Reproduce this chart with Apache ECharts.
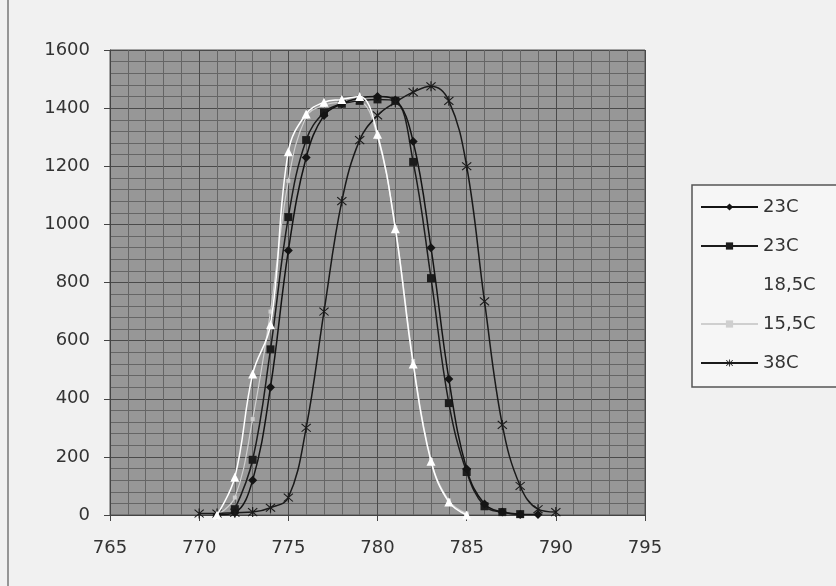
<!DOCTYPE html>
<html>
<head>
<meta charset="utf-8">
<script src="https://cdn.jsdelivr.net/npm/echarts@6/dist/echarts.min.js"></script>
<style>
  html, body { margin: 0; padding: 0; background: #f1f1f1; }
  #chart { width: 836px; height: 586px; }
</style>
</head>
<body>
<div id="chart"></div>
<script>
// ---- data ----
const xTicks = [765, 770, 775, 780, 785, 790, 795];
const yTicks = [0, 200, 400, 600, 800, 1000, 1200, 1400, 1600];

const wl23a = [771, 772, 773, 774, 775, 776, 777, 778, 779, 780, 781, 782, 783, 784, 785, 786, 787, 788, 789];
const val23a = [0, 8, 120, 440, 910, 1230, 1375, 1415, 1435, 1440, 1428, 1285, 920, 468, 158, 38, 10, 2, 2];

const wl23b = [772, 773, 774, 775, 776, 777, 778, 779, 780, 781, 782, 783, 784, 785, 786, 787, 788];
const val23b = [20, 190, 570, 1025, 1290, 1385, 1415, 1425, 1430, 1425, 1215, 815, 385, 148, 30, 10, 3];

const wl185 = [771, 772, 773, 774, 775, 776, 777, 778, 779, 780, 781, 782, 783, 784, 785];
const val185 = [0, 130, 485, 655, 1250, 1380, 1420, 1430, 1440, 1310, 985, 520, 185, 45, 0];

const wl155 = [771, 772, 773, 774, 775, 776, 777, 778, 779, 780, 781, 782, 783, 784, 785];
const val155 = [0, 60, 330, 700, 1150, 1370, 1410, 1420, 1420, 1300, 990, 530, 190, 50, 5];

const wl38 = [770, 771, 772, 773, 774, 775, 776, 777, 778, 779, 780, 781, 782, 783, 784, 785, 786, 787, 788, 789, 790];
const val38 = [5, 5, 8, 10, 25, 60, 300, 700, 1080, 1290, 1375, 1420, 1455, 1475, 1425, 1200, 735, 310, 100, 20, 10];

const seriesNames = ['23C', '23C ', '18,5C', '15,5C', '38C'];

// ---- helpers ----
function pairs(xs, ys) { return xs.map((x, i) => [x, ys[i]]); }
const starPath = 'path://M4.5 0 L5.5 0 L5.5 10 L4.5 10 Z M0.7 1.4 L1.4 0.7 L9.3 8.6 L8.6 9.3 Z M8.6 0.7 L9.3 1.4 L1.4 9.3 L0.7 8.6 Z';
const FONT = 'DejaVu Sans';

const chart = echarts.init(document.getElementById('chart'), null, { renderer: 'canvas' });

chart.setOption({
  backgroundColor: '#f1f1f1',
  animation: false,
  textStyle: { fontFamily: FONT },
  grid: {
    left: 110, right: 191, top: 50, bottom: 71,
    show: true, backgroundColor: '#979797', borderColor: '#555', borderWidth: 1
  },
  xAxis: {
    type: 'value', min: xTicks[0], max: xTicks[xTicks.length - 1], interval: 5,
    axisLine: { show: true, onZero: false, lineStyle: { color: '#444', width: 1 } },
    axisTick: { show: true, inside: false, length: 6, lineStyle: { color: '#444' } },
    axisLabel: { color: '#333', fontSize: 18, fontFamily: FONT, margin: 24, formatter: v => String(v) },
    splitLine: { show: true, lineStyle: { color: '#4a4a4a', width: 1 } },
    minorTick: { show: false, splitNumber: 5 },
    minorSplitLine: { show: true, lineStyle: { color: '#656565', width: 1 } }
  },
  yAxis: {
    type: 'value', min: yTicks[0], max: yTicks[yTicks.length - 1], interval: 200,
    axisLine: { show: true, lineStyle: { color: '#444', width: 1 } },
    axisTick: { show: true, inside: false, length: 6, lineStyle: { color: '#444' } },
    axisLabel: { color: '#333', fontSize: 18, fontFamily: FONT, margin: 20, formatter: v => String(v) },
    splitLine: { show: true, lineStyle: { color: '#4a4a4a', width: 1 } },
    minorTick: { show: false, splitNumber: 5 },
    minorSplitLine: { show: true, lineStyle: { color: '#656565', width: 1 } }
  },
  legend: {
    orient: 'vertical',
    left: 692, top: 185,
    padding: [12, 30, 14, 8],
    backgroundColor: '#f6f6f6',
    borderColor: '#555', borderWidth: 1.5,
    itemWidth: 57, itemHeight: 9, itemGap: 19,
    textStyle: { color: '#333', fontSize: 18, fontFamily: FONT, lineHeight: 20, height: 20 },
    data: [
      { name: seriesNames[0] },
      { name: seriesNames[1] },
      { name: seriesNames[2], itemStyle: { opacity: 0 }, lineStyle: { opacity: 0 } },
      { name: seriesNames[3] },
      { name: seriesNames[4] }
    ]
  },
  series: [
    {
      name: seriesNames[0], type: 'line', smooth: 0.4, data: pairs(wl23a, val23a),
      symbol: 'diamond', symbolSize: 9,
      itemStyle: { color: '#141414' }, lineStyle: { color: '#141414', width: 1.5 }, z: 4
    },
    {
      name: seriesNames[1], type: 'line', smooth: 0.4, data: pairs(wl23b, val23b),
      symbol: 'rect', symbolSize: 8,
      itemStyle: { color: '#1c1c1c' }, lineStyle: { color: '#1c1c1c', width: 1.5 }, z: 3
    },
    {
      name: seriesNames[2], type: 'line', smooth: 0.4, data: pairs(wl185, val185),
      symbol: 'triangle', symbolSize: 9,
      itemStyle: { color: '#ffffff' }, lineStyle: { color: '#ffffff', width: 1.5 }, z: 5
    },
    {
      name: seriesNames[3], type: 'line', smooth: 0.4, data: pairs(wl155, val155),
      symbol: 'rect', symbolSize: 4,
      itemStyle: { color: '#cfcfcf' }, lineStyle: { color: '#cfcfcf', width: 1.2 }, z: 2
    },
    {
      name: seriesNames[4], type: 'line', smooth: 0.4, data: pairs(wl38, val38),
      symbol: starPath, symbolSize: 10,
      itemStyle: { color: '#1a1a1a' }, lineStyle: { color: '#1a1a1a', width: 1.5 }, z: 4
    }
  ],
  graphic: [
    { type: 'line', shape: { x1: 8, y1: 0, x2: 8, y2: 586 }, style: { stroke: '#777', lineWidth: 1.5 } }
  ]
});
</script>
</body>
</html>
